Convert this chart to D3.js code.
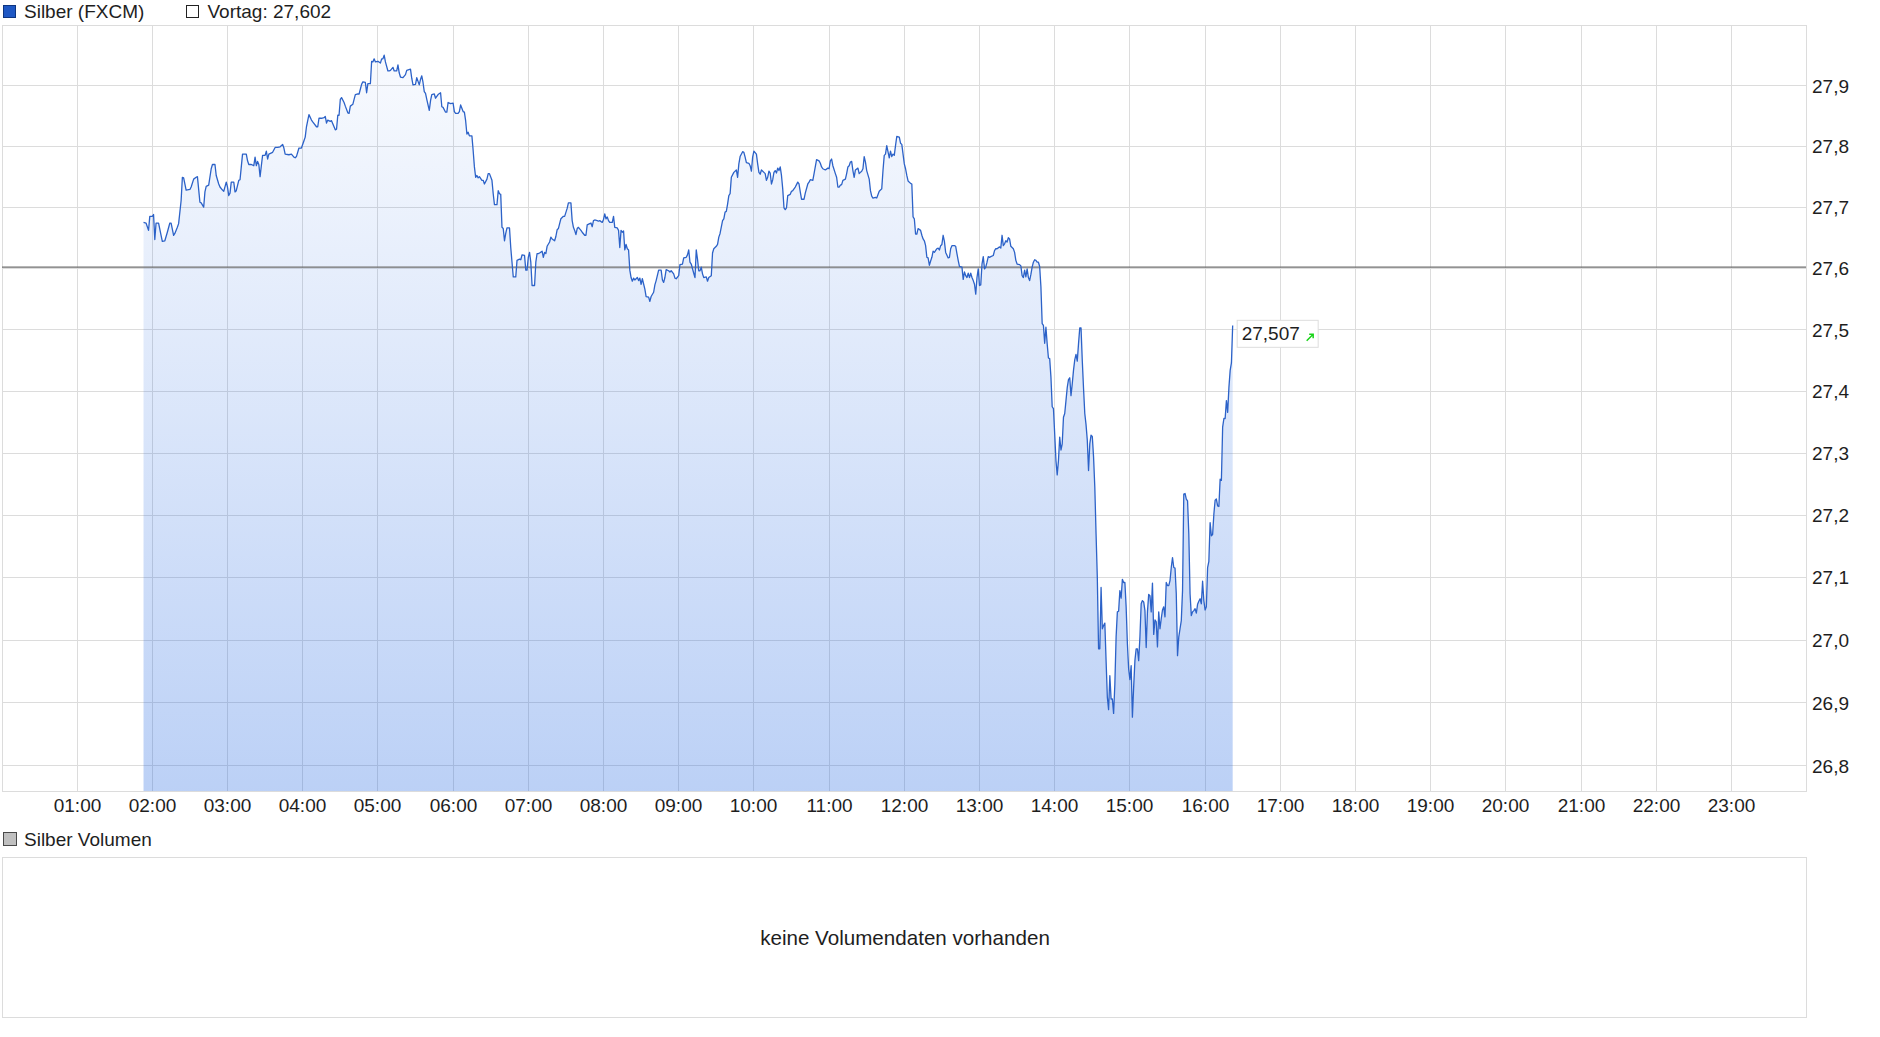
<!DOCTYPE html>
<html>
<head>
<meta charset="utf-8">
<script src="https://cdn.jsdelivr.net/npm/d3@7"></script>
<style>
body { margin: 0; background: #fff; }
svg { display: block; font-family: "Liberation Sans", Arial, sans-serif; }
</style>
</head>
<body>
<div id="chart"></div>
<script>
var width = 1880
var height = 1037

// Silber (FXCM), Intraday-Kurse (Uhrzeit / Kurs), 10 Werte pro Zeile
var times = [
  "01:53","01:55","01:57","01:58","02:00","02:01","02:02","02:03","02:05","02:07",
  "02:08","02:10","02:12","02:14","02:15","02:17","02:18","02:20","02:21","02:23",
  "02:24","02:25","02:27","02:30","02:31","02:33","02:35","02:36","02:38","02:39",
  "02:41","02:42","02:43","02:45","02:47","02:48","02:50","02:51","02:53","02:54",
  "02:56","02:57","02:59","03:00","03:01","03:02","03:03","03:05","03:06","03:07",
  "03:09","03:10","03:11","03:12","03:15","03:16","03:17","03:19","03:21","03:22",
  "03:23","03:24","03:25","03:26","03:27","03:28","03:30","03:31","03:32","03:33",
  "03:36","03:38","03:40","03:42","03:44","03:45","03:46","03:49","03:51","03:53",
  "03:54","03:55","03:57","03:59","04:01","04:02","04:03","04:04","04:05","04:07",
  "04:08","04:11","04:12","04:13","04:15","04:17","04:18","04:19","04:20","04:22",
  "04:23","04:24","04:26","04:27","04:28","04:29","04:30","04:31","04:33","04:34",
  "04:36","04:37","04:38","04:40","04:41","04:42","04:44","04:45","04:47","04:48",
  "04:50","04:51","04:52","04:54","04:55","04:56","04:57","04:58","05:00","05:02",
  "05:03","05:04","05:05","05:06","05:08","05:09","05:10","05:12","05:13","05:15",
  "05:16","05:17","05:18","05:20","05:22","05:23","05:26","05:27","05:28","05:30",
  "05:31","05:33","05:34","05:35","05:36","05:37","05:38","05:39","05:41","05:42",
  "05:43","05:45","05:46","05:48","05:50","05:51","05:52","05:54","05:55","05:56",
  "05:58","06:00","06:01","06:02","06:04","06:05","06:06","06:08","06:09","06:10",
  "06:11","06:12","06:13","06:15","06:16","06:17","06:18","06:19","06:20","06:21",
  "06:23","06:24","06:25","06:27","06:28","06:29","06:31","06:32","06:33","06:35",
  "06:36","06:37","06:38","06:39","06:40","06:41","06:42","06:43","06:45","06:46",
  "06:47","06:48","06:50","06:51","06:53","06:54","06:55","06:57","06:58","06:59",
  "07:00","07:01","07:02","07:03","07:05","07:06","07:07","07:08","07:09","07:11",
  "07:12","07:13","07:14","07:15","07:17","07:18","07:19","07:21","07:22","07:23",
  "07:24","07:25","07:26","07:28","07:29","07:31","07:32","07:34","07:35","07:36",
  "07:37","07:38","07:39","07:40","07:42","07:43","07:45","07:46","07:47","07:49",
  "07:50","07:51","07:52","07:53","07:55","07:56","07:57","07:59","08:00","08:01",
  "08:02","08:03","08:04","08:05","08:07","08:08","08:09","08:11","08:12","08:13",
  "08:14","08:15","08:16","08:17","08:18","08:19","08:20","08:21","08:22","08:23",
  "08:24","08:25","08:27","08:28","08:29","08:30","08:31","08:33","08:34","08:36",
  "08:37","08:38","08:40","08:41","08:42","08:44","08:46","08:47","08:48","08:49",
  "08:50","08:52","08:53","08:54","08:56","08:57","08:58","09:00","09:01","09:03",
  "09:04","09:06","09:07","09:08","09:09","09:10","09:12","09:13","09:14","09:15",
  "09:16","09:17","09:18","09:19","09:20","09:22","09:23","09:24","09:26","09:27",
  "09:28","09:29","09:30","09:31","09:32","09:33","09:35","09:36","09:37","09:38",
  "09:39","09:40","09:41","09:42","09:44","09:46","09:47","09:48","09:49","09:51",
  "09:52","09:53","09:54","09:56","09:57","09:58","09:59","10:00","10:02","10:03",
  "10:04","10:05","10:06","10:08","10:09","10:10","10:11","10:12","10:13","10:14",
  "10:15","10:16","10:17","10:18","10:19","10:20","10:21","10:22","10:23","10:24",
  "10:25","10:26","10:27","10:29","10:30","10:31","10:33","10:34","10:35","10:36",
  "10:37","10:38","10:40","10:41","10:43","10:44","10:45","10:47","10:48","10:50",
  "10:52","10:53","10:54","10:55","10:57","10:59","11:00","11:01","11:02","11:03",
  "11:05","11:06","11:07","11:08","11:09","11:10","11:11","11:13","11:14","11:15",
  "11:16","11:17","11:18","11:19","11:20","11:21","11:23","11:24","11:25","11:26",
  "11:27","11:28","11:29","11:30","11:32","11:33","11:34","11:35","11:37","11:38",
  "11:40","11:41","11:42","11:43","11:44","11:45","11:46","11:48","11:49","11:50",
  "11:51","11:52","11:53","11:54","11:56","11:57","11:58","11:59","12:00","12:01",
  "12:02","12:03","12:05","12:06","12:07","12:08","12:09","12:10","12:11","12:13",
  "12:14","12:15","12:16","12:17","12:18","12:19","12:20","12:21","12:22","12:23",
  "12:24","12:26","12:27","12:28","12:29","12:30","12:31","12:32","12:33","12:35",
  "12:36","12:37","12:38","12:40","12:41","12:42","12:43","12:44","12:46","12:47",
  "12:48","12:49","12:50","12:51","12:52","12:53","12:54","12:55","12:56","12:57",
  "12:58","12:59","13:00","13:01","13:02","13:03","13:04","13:05","13:06","13:07",
  "13:08","13:09","13:11","13:12","13:13","13:14","13:16","13:17","13:18","13:19",
  "13:20","13:21","13:22","13:23","13:24","13:25","13:27","13:28","13:29","13:30",
  "13:32","13:33","13:34","13:35","13:36","13:37","13:38","13:39","13:40","13:41",
  "13:42","13:43","13:44","13:45","13:46","13:47","13:48","13:49","13:50","13:51",
  "13:52","13:53","13:54","13:55","13:56","13:57","13:58","13:59","14:00","14:01",
  "14:02","14:03","14:04","14:05","14:06","14:07","14:08","14:09","14:10","14:11",
  "14:12","14:13","14:14","14:15","14:16","14:17","14:18","14:19","14:20","14:21",
  "14:22","14:23","14:24","14:25","14:26","14:27","14:28","14:29","14:30","14:31",
  "14:32","14:33","14:34","14:35","14:36","14:37","14:38","14:39","14:40","14:41",
  "14:42","14:43","14:44","14:45","14:46","14:47","14:48","14:49","14:50","14:51",
  "14:52","14:53","14:54","14:55","14:56","14:57","14:58","14:59","15:00","15:01",
  "15:02","15:03","15:04","15:05","15:06","15:07","15:08","15:09","15:10","15:11",
  "15:12","15:13","15:14","15:15","15:16","15:17","15:18","15:19","15:20","15:21",
  "15:22","15:23","15:24","15:25","15:26","15:27","15:28","15:29","15:30","15:31",
  "15:32","15:33","15:34","15:35","15:36","15:37","15:38","15:39","15:40","15:41",
  "15:42","15:43","15:44","15:45","15:46","15:47","15:48","15:49","15:50","15:51",
  "15:52","15:53","15:54","15:55","15:56","15:57","15:58","15:59","16:00","16:01",
  "16:02","16:03","16:04","16:05","16:06","16:07","16:08","16:09","16:10","16:11",
  "16:12","16:13","16:14","16:15","16:16","16:17","16:18","16:19","16:20","16:21",
  "16:22"
]
var prices = [
  27.675,27.674,27.662,27.685,27.685,27.688,27.647,27.674,27.674,27.654,
  27.644,27.645,27.659,27.674,27.674,27.654,27.657,27.667,27.673,27.711,
  27.749,27.748,27.728,27.729,27.733,27.746,27.749,27.750,27.708,27.707,
  27.700,27.725,27.734,27.736,27.763,27.770,27.770,27.752,27.738,27.733,
  27.728,27.726,27.741,27.733,27.719,27.723,27.741,27.741,27.725,27.727,
  27.744,27.745,27.766,27.787,27.787,27.776,27.770,27.770,27.768,27.782,
  27.768,27.775,27.770,27.750,27.768,27.785,27.785,27.792,27.779,27.787,
  27.790,27.798,27.798,27.799,27.803,27.797,27.787,27.786,27.787,27.782,
  27.781,27.783,27.797,27.797,27.809,27.815,27.832,27.842,27.852,27.843,
  27.840,27.832,27.832,27.846,27.846,27.847,27.849,27.838,27.843,27.841,
  27.842,27.837,27.827,27.828,27.851,27.851,27.877,27.880,27.872,27.866,
  27.855,27.854,27.866,27.869,27.877,27.885,27.886,27.886,27.902,27.906,
  27.905,27.888,27.903,27.903,27.940,27.939,27.944,27.939,27.940,27.937,
  27.944,27.944,27.950,27.939,27.924,27.924,27.925,27.930,27.924,27.924,
  27.934,27.921,27.914,27.913,27.918,27.925,27.927,27.912,27.901,27.902,
  27.913,27.901,27.910,27.916,27.905,27.890,27.887,27.877,27.859,27.875,
  27.885,27.886,27.879,27.885,27.888,27.865,27.864,27.856,27.856,27.872,
  27.870,27.871,27.857,27.854,27.854,27.857,27.868,27.857,27.856,27.842,
  27.820,27.823,27.817,27.817,27.793,27.766,27.749,27.752,27.748,27.750,
  27.744,27.744,27.738,27.746,27.755,27.755,27.744,27.722,27.704,27.704,
  27.727,27.722,27.721,27.667,27.665,27.645,27.657,27.666,27.666,27.634,
  27.610,27.586,27.586,27.613,27.615,27.614,27.622,27.621,27.597,27.597,
  27.618,27.626,27.610,27.572,27.572,27.610,27.624,27.624,27.625,27.628,
  27.618,27.626,27.624,27.636,27.643,27.651,27.648,27.645,27.652,27.663,
  27.665,27.673,27.681,27.685,27.685,27.698,27.707,27.707,27.678,27.667,
  27.662,27.655,27.665,27.667,27.662,27.659,27.654,27.654,27.671,27.673,
  27.674,27.668,27.678,27.679,27.678,27.677,27.678,27.675,27.680,27.689,
  27.681,27.684,27.678,27.675,27.675,27.685,27.667,27.666,27.662,27.634,
  27.662,27.659,27.661,27.630,27.639,27.632,27.630,27.597,27.585,27.579,
  27.584,27.581,27.585,27.580,27.584,27.574,27.583,27.566,27.554,27.553,
  27.546,27.554,27.561,27.573,27.580,27.597,27.597,27.581,27.577,27.585,
  27.598,27.596,27.594,27.596,27.591,27.584,27.583,27.588,27.606,27.607,
  27.617,27.618,27.622,27.630,27.610,27.607,27.592,27.585,27.630,27.615,
  27.596,27.596,27.602,27.591,27.585,27.586,27.579,27.585,27.588,27.625,
  27.632,27.634,27.636,27.639,27.651,27.657,27.678,27.681,27.692,27.693,
  27.705,27.719,27.722,27.749,27.757,27.761,27.749,27.771,27.783,27.791,
  27.790,27.782,27.773,27.772,27.768,27.759,27.782,27.792,27.787,27.771,
  27.757,27.754,27.761,27.757,27.755,27.744,27.749,27.759,27.756,27.738,
  27.745,27.757,27.760,27.756,27.764,27.760,27.766,27.752,27.730,27.699,
  27.696,27.699,27.719,27.721,27.726,27.727,27.733,27.737,27.741,27.738,
  27.725,27.713,27.713,27.723,27.738,27.741,27.745,27.744,27.755,27.778,
  27.776,27.772,27.766,27.763,27.761,27.764,27.763,27.776,27.779,27.768,
  27.755,27.749,27.733,27.733,27.736,27.737,27.744,27.746,27.755,27.766,
  27.768,27.774,27.775,27.760,27.749,27.761,27.764,27.755,27.757,27.759,
  27.763,27.783,27.774,27.760,27.746,27.727,27.718,27.715,27.716,27.715,
  27.726,27.728,27.730,27.760,27.785,27.787,27.801,27.781,27.792,27.783,
  27.787,27.785,27.801,27.816,27.815,27.805,27.803,27.787,27.771,27.763,
  27.752,27.743,27.739,27.738,27.684,27.681,27.656,27.656,27.665,27.662,
  27.654,27.648,27.645,27.637,27.618,27.617,27.605,27.612,27.618,27.628,
  27.626,27.632,27.633,27.630,27.637,27.639,27.654,27.644,27.626,27.617,
  27.618,27.632,27.637,27.637,27.636,27.624,27.613,27.603,27.602,27.582,
  27.594,27.588,27.585,27.592,27.585,27.592,27.585,27.580,27.574,27.558,
  27.585,27.599,27.572,27.573,27.607,27.619,27.599,27.602,27.610,27.619,
  27.618,27.619,27.621,27.629,27.632,27.632,27.635,27.633,27.654,27.637,
  27.640,27.645,27.643,27.650,27.648,27.636,27.632,27.626,27.613,27.607,
  27.606,27.604,27.588,27.585,27.597,27.586,27.599,27.585,27.580,27.590,
  27.602,27.610,27.614,27.613,27.610,27.610,27.603,27.570,27.510,27.507,
  27.478,27.504,27.477,27.454,27.453,27.423,27.375,27.372,27.331,27.288,
  27.265,27.288,27.326,27.305,27.315,27.358,27.364,27.385,27.406,27.419,
  27.422,27.393,27.412,27.434,27.451,27.460,27.449,27.477,27.503,27.503,
  27.450,27.405,27.364,27.346,27.321,27.272,27.315,27.329,27.327,27.294,
  27.245,27.170,27.100,26.986,26.986,27.084,27.018,27.023,27.027,26.967,
  26.909,26.889,26.943,26.906,26.906,26.883,26.930,27.005,27.045,27.046,
  27.079,27.067,27.097,27.092,27.092,27.053,26.994,26.954,26.937,26.959,
  26.877,26.925,26.967,26.986,26.986,26.967,27.005,27.058,27.063,27.061,
  27.047,26.988,27.045,27.073,27.071,27.045,27.091,27.009,27.032,27.029,
  26.989,27.045,27.018,27.034,27.048,27.053,27.037,27.092,27.087,27.087,
  27.095,27.116,27.132,27.116,27.115,27.074,26.975,27.005,27.018,27.031,
  27.079,27.234,27.235,27.226,27.223,27.170,27.074,27.039,27.045,27.047,
  27.050,27.043,27.057,27.062,27.066,27.058,27.094,27.063,27.048,27.053,
  27.116,27.126,27.188,27.167,27.169,27.202,27.224,27.226,27.215,27.214,
  27.258,27.256,27.342,27.356,27.356,27.385,27.366,27.406,27.434,27.446,
  27.507
]

var vortag = 27.602
var priceTicks = [26.8, 26.9, 27.0, 27.1, 27.2, 27.3, 27.4, 27.5, 27.6, 27.7, 27.8, 27.9]
var hourTicks = ["01:00","02:00","03:00","04:00","05:00","06:00","07:00","08:00","09:00","10:00","11:00","12:00",
                 "13:00","14:00","15:00","16:00","17:00","18:00","19:00","20:00","21:00","22:00","23:00"]
var priceDomain = [26.76, 28.0]
var seriesName = "Silber (FXCM)"
var volumeName = "Silber Volumen"
var volumeNote = "keine Volumendaten vorhanden"

var de = d3.formatLocale({decimal: ",", thousands: ".", grouping: [3], currency: ["", " €"]})
var fmt1 = de.format(".1f")
var fmt3 = de.format(".3f")
var parseTime = d3.timeParse("%H:%M")

var data = []
for (var i = 0; i < Math.min(times.length, prices.length); i++) {
    data.push({ t: parseTime(times[i]), v: prices[i] })
}

var plot = { left: 2, right: 1806, top: 25, bottom: 791 }
var day0 = parseTime("00:00")

var x = d3.scaleTime()
    .domain([day0, d3.timeDay.offset(day0, 1)])
    .range([1.9, 1806.7])

// logarithmische Kursachse
var y = d3.scaleLog()
    .domain(priceDomain)
    .range([plot.bottom, plot.top])

var svg = d3.select("#chart")
    .append("svg")
    .attr("width", width)
    .attr("height", height)

var grid = "#dcdcdc"
var textColor = "#1e1e1e"

// Gitter
svg.append("g")
    .selectAll("line")
    .data(priceTicks)
    .enter()
    .append("line")
    .attr("x1", plot.left)
    .attr("x2", plot.right)
    .attr("y1", function (d) { return Math.floor(y(d)) + 0.5 })
    .attr("y2", function (d) { return Math.floor(y(d)) + 0.5 })
    .attr("stroke", grid)

svg.append("g")
    .selectAll("line")
    .data(hourTicks)
    .enter()
    .append("line")
    .attr("x1", function (d) { return Math.floor(x(parseTime(d))) + 0.5 })
    .attr("x2", function (d) { return Math.floor(x(parseTime(d))) + 0.5 })
    .attr("y1", plot.top)
    .attr("y2", plot.bottom)
    .attr("stroke", grid)

svg.append("rect")
    .attr("x", plot.left + 0.5)
    .attr("y", plot.top + 0.5)
    .attr("width", plot.right - plot.left)
    .attr("height", plot.bottom - plot.top)
    .attr("fill", "none")
    .attr("stroke", grid)

// Flaeche mit Verlauf
var defs = svg.append("defs")
var grad = defs.append("linearGradient")
    .attr("id", "fillGrad")
    .attr("gradientUnits", "userSpaceOnUse")
    .attr("x1", 0).attr("x2", 0)
    .attr("y1", plot.top).attr("y2", plot.bottom)
grad.append("stop").attr("offset", "0%").attr("stop-color", "rgb(30,100,225)").attr("stop-opacity", 0.02)
grad.append("stop").attr("offset", "100%").attr("stop-color", "rgb(30,100,225)").attr("stop-opacity", 0.30)

svg.append("path")
    .datum(data)
    .attr("fill", "url(#fillGrad)")
    .attr("d", d3.area()
        .x(function (d) { return x(d.t) })
        .y0(plot.bottom)
        .y1(function (d) { return y(d.v) }))

// Vortageslinie
svg.append("line")
    .attr("x1", plot.left)
    .attr("x2", plot.right)
    .attr("y1", y(vortag))
    .attr("y2", y(vortag))
    .attr("stroke", "#6e6e6e")
    .attr("stroke-width", 1.4)

// Kurslinie
svg.append("path")
    .datum(data)
    .attr("fill", "none")
    .attr("stroke", "#2c62c8")
    .attr("stroke-width", 1.3)
    .attr("stroke-linejoin", "round")
    .attr("d", d3.line()
        .x(function (d) { return x(d.t) })
        .y(function (d) { return y(d.v) }))

// Achsenbeschriftung
svg.append("g")
    .selectAll("text")
    .data(priceTicks)
    .enter()
    .append("text")
    .attr("x", 1812)
    .attr("y", function (d) { return y(d) + 7 })
    .attr("font-size", 19)
    .attr("fill", textColor)
    .text(function (d) { return fmt1(d) })

svg.append("g")
    .selectAll("text")
    .data(hourTicks)
    .enter()
    .append("text")
    .attr("x", function (d) { return Math.floor(x(parseTime(d))) + 0.5 })
    .attr("y", 812)
    .attr("text-anchor", "middle")
    .attr("font-size", 19)
    .attr("fill", textColor)
    .text(function (d) { return d })

// Legende oben
svg.append("rect")
    .attr("x", 3.5).attr("y", 5.5).attr("width", 12).attr("height", 12)
    .attr("fill", "#1f58c4").attr("stroke", "#0e3580")
svg.append("text")
    .attr("x", 24).attr("y", 18)
    .attr("font-size", 19).attr("fill", textColor)
    .text(seriesName)
svg.append("rect")
    .attr("x", 186.5).attr("y", 5.5).attr("width", 12).attr("height", 12)
    .attr("fill", "#fff").attr("stroke", "#222")
svg.append("text")
    .attr("x", 207.5).attr("y", 18)
    .attr("font-size", 19).attr("fill", textColor)
    .text("Vortag: " + fmt3(vortag))

// letzter Kurs
var last = data[data.length - 1]
var lx = x(last.t) + 4
var ly = y(last.v) - 5.6
var lbl = svg.append("g").attr("transform", "translate(" + lx + "," + ly + ")")
lbl.append("rect")
    .attr("x", 0.5).attr("y", 0.5).attr("width", 81).attr("height", 27)
    .attr("fill", "#fff").attr("stroke", "#dddddd")
lbl.append("text")
    .attr("x", 5).attr("y", 20.7)
    .attr("font-size", 19).attr("fill", textColor)
    .text(fmt3(last.v))
lbl.append("path")
    .attr("d", "M70,21 L76.5,14.5 M72.5,14.5 L76.5,14.5 L76.5,18.5")
    .attr("fill", "none")
    .attr("stroke", "#19d419")
    .attr("stroke-width", 1.5)

// Volumenbereich
svg.append("rect")
    .attr("x", 3.5).attr("y", 832.5).attr("width", 13).attr("height", 13)
    .attr("fill", "#c0c0c0").attr("stroke", "#4a4a4a")
svg.append("text")
    .attr("x", 24).attr("y", 846)
    .attr("font-size", 19).attr("fill", textColor)
    .text(volumeName)
svg.append("rect")
    .attr("x", plot.left + 0.5).attr("y", 857.5)
    .attr("width", plot.right - plot.left).attr("height", 160)
    .attr("fill", "none").attr("stroke", grid)
svg.append("text")
    .attr("x", (plot.left + plot.right) / 2 + 1)
    .attr("y", 945)
    .attr("text-anchor", "middle")
    .attr("font-size", 20.6).attr("fill", textColor)
    .text(volumeNote)
</script>
</body>
</html>
